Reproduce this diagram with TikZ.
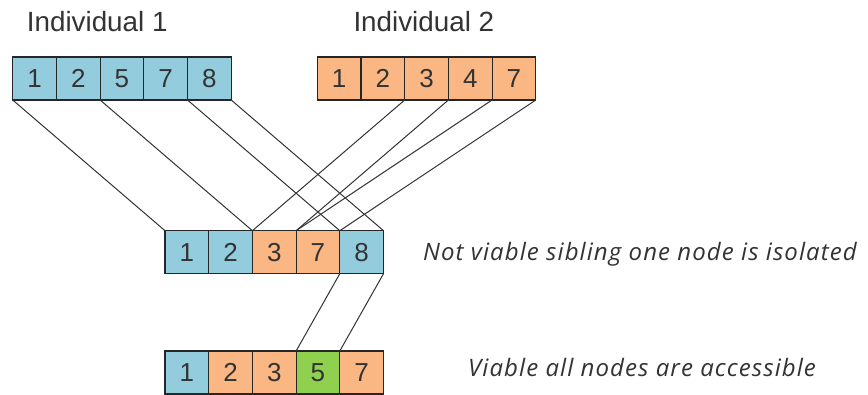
\documentclass[tikz,border=0pt]{standalone}
\usepackage{fontspec}
\setmainfont{Liberation Sans}
\newfontfamily\notefont[LetterSpace=4.5]{Open Sans}
\usetikzlibrary{positioning}
\definecolor{cellblue}{HTML}{93CDDD}
\definecolor{cellorange}{HTML}{FAB784}
\definecolor{cellgreen}{HTML}{8FD14F}
\definecolor{textgray}{HTML}{333333}
\begin{document}
\begin{tikzpicture}[x=1pt, y=-1pt, node distance=0pt,
	cell/.style={draw=black!85, line width=1.1pt, minimum width=43.7pt, minimum height=43pt, inner sep=0pt, outer sep=0pt, text=textgray, font=\fontsize{26}{26}\selectfont},
	bluecell/.style={cell, fill=cellblue},
	orangecell/.style={cell, fill=cellorange},
	greencell/.style={cell, fill=cellgreen},
	link/.style={draw=black!80, line width=1pt},
	head/.style={anchor=base west, inner sep=0pt, text=textgray, font=\fontsize{27.8}{27.8}\selectfont},
	note/.style={anchor=base west, inner sep=0pt, text=textgray, font=\notefont\itshape\fontsize{24}{24}\selectfont}]
		\useasboundingbox (0,0) rectangle (868,394);
		\node[head] (h1) at (26.7,31.7) {Individual 1};
		\node[head] (h2) at (353.3,31.7) {Individual 2};
		
		\node[bluecell, anchor=north west] (a1) at (12.7,57) {1};
		\node[bluecell, right=of a1] (a2) {2};
		\node[bluecell, right=of a2] (a3) {5};
		\node[bluecell, right=of a3] (a4) {7};
		\node[bluecell, right=of a4] (a5) {8};
		
		\node[orangecell, anchor=north west] (b1) at (317.3,57) {1};
		\node[orangecell, right=of b1] (b2) {2};
		\node[orangecell, right=of b2] (b3) {3};
		\node[orangecell, right=of b3] (b4) {4};
		\node[orangecell, right=of b4] (b5) {7};
		
		\node[bluecell, anchor=north west] (m1) at (165,230.7) {1};
		\node[bluecell, right=of m1] (m2) {2};
		\node[orangecell, right=of m2] (m3) {3};
		\node[orangecell, right=of m3] (m4) {7};
		\node[bluecell, right=of m4] (m5) {8};
		
		\node[bluecell, anchor=north west] (v1) at (165,351) {1};
		\node[orangecell, right=of v1] (v2) {2};
		\node[orangecell, right=of v2] (v3) {3};
		\node[greencell, right=of v3] (v4) {5};
		\node[orangecell, right=of v4] (v5) {7};
		
		\draw[link] (a1.south west) -- (m1.north west);
		\draw[link] (a2.south east) -- (m2.north east);
		\draw[link] (a5.south west) -- (m5.north west);
		\draw[link] (a5.south east) -- (m5.north east);
		\draw[link] (b3.south west) -- (m3.north west);
		\draw[link] (b3.south east) -- (m3.north east);
		\draw[link] (b5.south west) -- (m4.north west);
		\draw[link] (b5.south east) -- (m4.north east);
		\draw[link] (m5.south west) -- (v4.north west);
		\draw[link] (m5.south east) -- (v5.north west);
		
		\node[note] (n1) at (423,260) {Not viable sibling one node is isolated};
		\node[note] (n2) at (468,376.7) {Viable all nodes are accessible};
	\end{tikzpicture}
\end{document}
